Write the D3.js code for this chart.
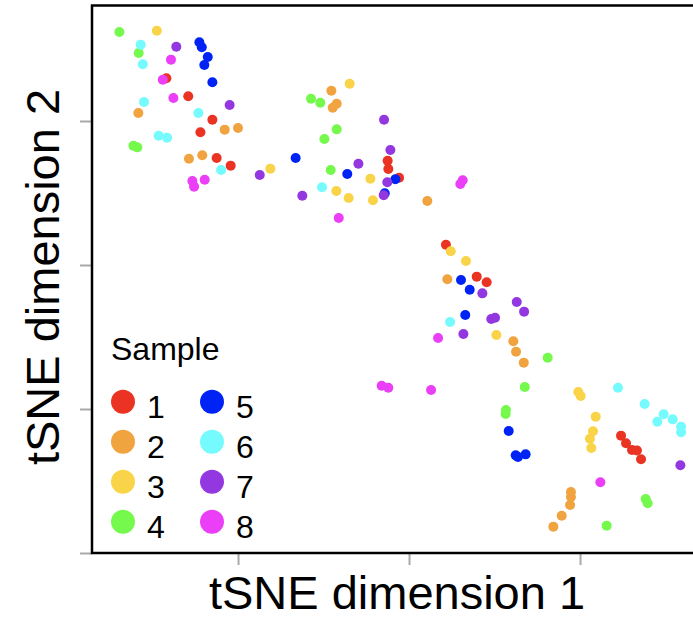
<!DOCTYPE html>
<html>
<head>
<meta charset="utf-8">
<script src="https://cdn.jsdelivr.net/npm/d3@7"></script>
<style>
  body { margin: 0; background: #fff; }
  svg { display: block; font-family: 'Liberation Sans', Arial, Helvetica, sans-serif; }
</style>
</head>
<body>
<div id="scatter"></div>
<script>
'use strict';

//data, one inner list per sample
const samples = ['1', '2', '3', '4', '5', '6', '7', '8'];
const sampleColors = ['#ea3323', '#f1a340', '#f9d448', '#75f94d', '#0023f5', '#75fbfd', '#9337e0', '#ea3ff7'];

const dim1BySample = [
  [-14.19, -12.91, -11.50, -12.20, -11.25, -10.43, -1.25, -1.21, -0.58, 2.16, 3.96, 4.54, 12.40, 12.69, 13.04, 13.33, 13.57],
  [-15.83, -10.78, -10.00, -12.87, -12.09, -4.54, -4.23, -4.46, 1.07, 2.24, 6.10, 6.26, 6.71, 9.47, 9.47, 9.42, 8.93, 8.44],
  [-14.75, -8.11, -3.47, -2.26, -4.25, -3.53, -2.11, 2.44, 3.33, 5.11, 9.90, 10.04, 10.92, 10.76, 10.58, 10.66],
  [-16.94, -15.81, -16.12, -15.89, -5.73, -5.19, -4.23, -4.95, -4.58, 8.11, 6.77, 5.67, 5.65, 13.84, 13.96, 11.56],
  [-12.26, -12.12, -11.77, -11.97, -11.50, -6.63, -3.61, -0.80, -1.42, 3.04, 3.55, 3.29, 5.83, 6.24, 6.37, 6.82],
  [-15.69, -15.57, -15.50, -12.32, -14.64, -14.15, -10.99, -5.09, 2.40, 12.22, 13.78, 14.89, 14.52, 15.42, 15.91, 15.91],
  [-13.61, -10.49, -8.73, -1.46, -1.09, -2.96, -1.27, -1.48, -6.24, 4.29, 6.30, 6.73, 4.81, 5.03, 3.18, 15.87],
  [-13.92, -14.40, -13.78, -12.67, -12.57, -11.95, 3.14, 3.00, -4.11, 1.70, -1.60, -1.21, 1.29, 11.19]
];

const dim2BySample = [
  [12.97, 11.72, 10.09, 9.22, 7.43, 6.90, 7.24, 6.67, 6.06, 1.41, -0.81, -1.20, -11.85, -12.38, -12.85, -12.88, -13.49],
  [10.56, 9.40, 9.51, 7.38, 7.62, 12.10, 11.20, 10.92, 4.44, -0.99, -5.30, -6.02, -6.78, -15.76, -16.11, -16.67, -17.41, -18.17],
  [16.27, 6.69, 12.59, 5.99, 5.14, 4.65, 4.49, 0.95, 0.28, -4.86, -8.82, -9.10, -10.53, -11.55, -12.06, -12.71],
  [16.18, 14.72, 8.28, 8.17, 11.55, 11.27, 9.42, 8.75, 6.60, -6.44, -8.47, -10.07, -10.35, -16.25, -16.55, -18.10],
  [15.47, 15.12, 14.44, 13.89, 12.69, 7.43, 6.32, 5.95, 4.98, -1.04, -1.72, -3.47, -11.53, -13.22, -13.33, -13.15],
  [15.30, 13.94, 11.32, 10.56, 8.98, 8.84, 6.60, 5.40, -3.96, -8.52, -9.65, -10.37, -10.88, -10.72, -11.23, -11.62],
  [15.16, 11.11, 6.25, 10.09, 7.99, 7.03, 5.74, 4.84, 4.81, -1.97, -2.57, -3.24, -3.75, -3.66, -4.79, -13.91],
  [14.26, 12.87, 11.60, 5.83, 5.44, 5.92, 5.88, 5.63, 3.26, -5.07, -8.38, -8.52, -8.68, -15.09]
];

const xTicks = [-10, 0, 10];
const yTicks = [-20, -10, 0, 10];

//chart set up
let width = 693;
let height = 620;
let margin = { top: 5.5, left: 92, bottom: 67 };
let plotRight = 705; //the frame runs past the right edge of the picture
let pointRadius = 5;

let svg = d3.select('#scatter')
  .append('svg')
  .attr('width', width)
  .attr('height', height);

let xScale = d3.scaleLinear()
  .domain([-18.54, 17.31])
  .range([margin.left, plotRight]);

let yScale = d3.scaleLinear()
  .domain([-20, 18.02])
  .range([height - margin.bottom, margin.top]);

//tick marks only, no labels
let xAxis = d3.axisBottom(xScale).tickValues(xTicks).tickSize(12).tickFormat('');
let yAxis = d3.axisLeft(yScale).tickValues(yTicks).tickSize(12).tickFormat('');

svg.append('g')
  .attr('class', 'xAxis')
  .attr('transform', `translate(0, ${height - margin.bottom})`)
  .call(xAxis);

svg.append('g')
  .attr('class', 'yAxis')
  .attr('transform', `translate(${margin.left}, 0)`)
  .call(yAxis);

svg.selectAll('.xAxis .domain, .yAxis .domain').remove();
svg.selectAll('.xAxis .tick line, .yAxis .tick line')
  .attr('stroke', '#a9a9a9')
  .attr('stroke-width', 2);

//points, sample by sample
let points = [];
samples.forEach((s, i) => {
  dim1BySample[i].forEach((x, j) => {
    points.push({ sample: s, color: sampleColors[i], x: x, y: dim2BySample[i][j] });
  });
});

svg.append('g')
  .attr('class', 'points')
  .selectAll('circle')
  .data(points)
  .enter()
  .append('circle')
  .attr('cx', d => xScale(d.x))
  .attr('cy', d => yScale(d.y))
  .attr('r', pointRadius)
  .attr('fill', d => d.color);

//frame
svg.append('rect')
  .attr('x', margin.left)
  .attr('y', margin.top)
  .attr('width', plotRight - margin.left)
  .attr('height', height - margin.bottom - margin.top)
  .attr('fill', 'none')
  .attr('stroke', '#000')
  .attr('stroke-width', 2.5);

//axis titles
svg.append('text')
  .attr('x', 397)
  .attr('y', 609)
  .attr('text-anchor', 'middle')
  .attr('font-size', 47)
  .attr('fill', '#000')
  .text('tSNE dimension 1');

svg.append('text')
  .attr('transform', 'translate(59, 277) rotate(-90)')
  .attr('text-anchor', 'middle')
  .attr('font-size', 47)
  .attr('fill', '#000')
  .text('tSNE dimension 2');

//legend
let legend = svg.append('g').attr('class', 'legend');

legend.append('text')
  .attr('x', 111)
  .attr('y', 360)
  .attr('font-size', 32)
  .attr('fill', '#000')
  .text('Sample');

let items = legend.selectAll('g.item')
  .data(samples)
  .enter()
  .append('g')
  .attr('class', 'item')
  .attr('transform', (d, i) => `translate(${i < 4 ? 123 : 212}, ${401.7 + (i % 4) * 40})`);

items.append('circle')
  .attr('r', 12)
  .attr('fill', (d, i) => sampleColors[i]);

items.append('text')
  .attr('x', 24)
  .attr('y', 16.5)
  .attr('font-size', 32)
  .attr('fill', '#000')
  .text(d => d);
</script>
</body>
</html>
